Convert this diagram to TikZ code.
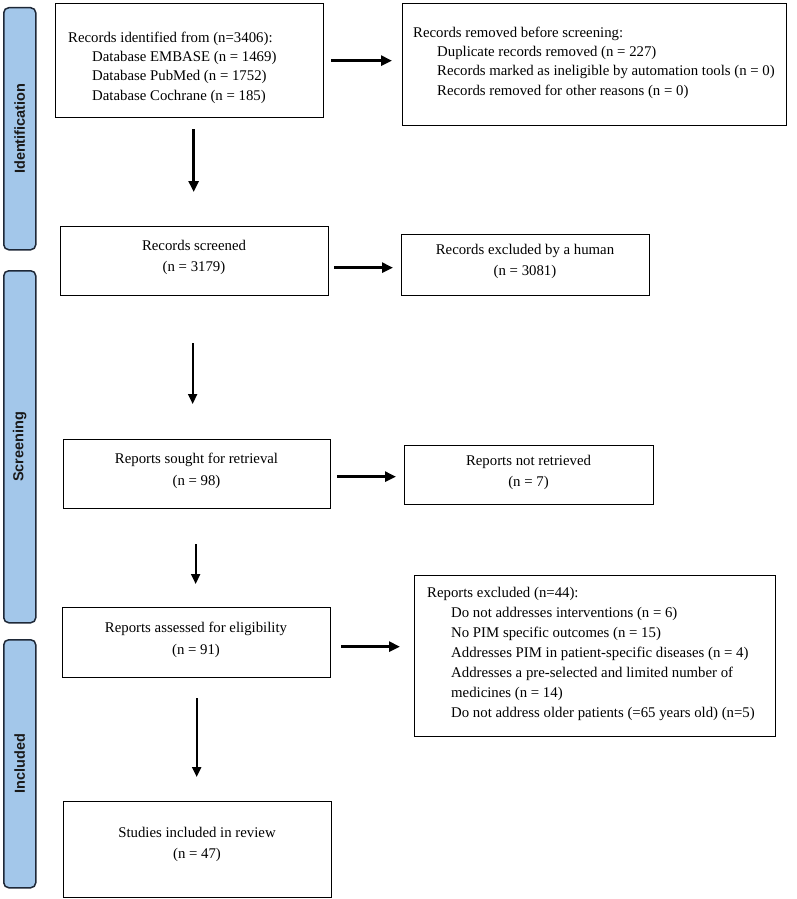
\documentclass[tikz,border=0pt]{standalone}
\usepackage{fontspec}
\setmainfont{Liberation Serif}
\newfontfamily\sidefont{Liberation Sans}
\usetikzlibrary{arrows.meta,calc}
\definecolor{sideblue}{RGB}{163,199,234}
\definecolor{sideline}{RGB}{30,40,55}
\tikzset{
  box/.style={draw=black,line width=1.3pt,fill=white,anchor=north west,inner sep=0pt},
  sidebox/.style={draw=sideline,line width=1.5pt,fill=sideblue,rounded corners=5pt,anchor=north west,inner sep=0pt},
  sidetext/.style={font=\sidefont\bfseries\fontsize{14.5}{16}\selectfont,rotate=90,inner sep=0pt,text=black!90},
  ltext/.style={font=\fontsize{14.8}{19.4}\selectfont,align=left,anchor=north west,inner sep=0pt},
  ctext/.style={font=\fontsize{14.8}{21.5}\selectfont,align=center,anchor=north,inner sep=0pt},
  thick arrow/.style={line width=2.6pt,-{Triangle[length=11pt,width=10pt]}},
  thin arrow/.style={line width=1.9pt,-{Triangle[length=10pt,width=9pt]}}
}
\begin{document}
\begin{tikzpicture}[x=1pt,y=-1pt]
\useasboundingbox (0,0) rectangle (796,899);
% side labels
\node[sidebox,minimum width=32pt,minimum height=242pt] (sid) at (3,7) {};
\node[sidetext] (sidt) at (sid.center) {Identification};
\node[sidebox,minimum width=32pt,minimum height=352pt] (ssc) at (3,270) {};
\node[sidetext] (ssct) at (ssc.center) {Screening};
\node[sidebox,minimum width=32pt,minimum height=248pt] (sin) at (3,639) {};
\node[sidetext] (sint) at (sin.center) {Included};
% boxes
\node[box,minimum width=268pt,minimum height=114pt] (idb) at (55,3) {};
\node[ltext] (idt) at (68,31.5) {Records identified from (n=3406):\\
\hspace*{24pt}Database EMBASE (n = 1469)\\
\hspace*{24pt}Database PubMed (n = 1752)\\
\hspace*{24pt}Database Cochrane (n = 185)};
\node[box,minimum width=384pt,minimum height=122pt] (rmb) at (402,3) {};
\node[ltext] (rmt) at (413,26.5) {Records removed before screening:\\
\hspace*{24pt}Duplicate records removed (n = 227)\\
\hspace*{24pt}Records marked as ineligible by automation tools (n = 0)\\
\hspace*{24pt}Records removed for other reasons (n = 0)};
\node[box,minimum width=268pt,minimum height=69pt] (scb) at (60,226) {};
\node[ctext] (sct) at (194,240) {Records screened\\(n = 3179)};
\node[box,minimum width=248pt,minimum height=61pt] (exb) at (401,234) {};
\node[ctext] (ext) at (525,244) {Records excluded by a human\\(n = 3081)};
\node[box,minimum width=267pt,minimum height=69pt] (sob) at (63,439) {};
\node[ctext] (sot) at (196.5,453) {Reports sought for retrieval\\(n = 98)};
\node[box,minimum width=249pt,minimum height=59pt] (nrb) at (404,445) {};
\node[ctext] (nrt) at (528.5,455) {Reports not retrieved\\(n = 7)};
\node[box,minimum width=268pt,minimum height=70pt] (asb) at (62,607) {};
\node[ctext] (ast) at (196,622) {Reports assessed for eligibility\\(n = 91)};
\node[box,minimum width=361pt,minimum height=161pt] (reb) at (414,575) {};
\node[ltext,font=\fontsize{14.8}{20}\selectfont] (ret) at (427,587.5) {Reports excluded (n=44):\\
\hspace*{24pt}Do not addresses interventions (n = 6)\\
\hspace*{24pt}No PIM specific outcomes (n = 15)\\
\hspace*{24pt}Addresses PIM in patient-specific diseases (n = 4)\\
\hspace*{24pt}Addresses a pre-selected and limited number of\\
\hspace*{24pt}medicines (n = 14)\\
\hspace*{24pt}Do not address older patients (=65 years old) (n=5)};
\node[box,minimum width=268pt,minimum height=96pt] (stb) at (63,801) {};
\node[ctext] (stt) at (197,827) {Studies included in review\\(n = 47)};
% arrows
\draw[thick arrow,shorten <=7pt,shorten >=10pt] (idb.east) -- (idb.east -| rmb.west);
\draw[thick arrow,shorten <=11pt,shorten >=34pt] ([xshift=4pt]idb.south) -- ([xshift=4pt]idb.south |- scb.north);
\draw[thick arrow,shorten <=5pt,shorten >=8pt] ([yshift=-6.5pt]scb.east) -- ([yshift=-6.5pt]scb.east -| exb.west);
\draw[thin arrow,shorten <=47pt,shorten >=35pt] ([xshift=-2pt]scb.south) -- ([xshift=-2pt]scb.south |- sob.north);
\draw[thick arrow,shorten <=6pt,shorten >=8pt] ([yshift=-2.5pt]sob.east) -- ([yshift=-2.5pt]sob.east -| nrb.west);
\draw[thin arrow,shorten <=35pt,shorten >=23pt] ([xshift=-1.5pt]sob.south) -- ([xshift=-1.5pt]sob.south |- asb.north);
\draw[thick arrow,line width=3pt,shorten <=10pt,shorten >=14pt] ([yshift=-4pt]asb.east) -- ([yshift=-4pt]asb.east -| reb.west);
\draw[thin arrow,line width=2.2pt,shorten <=20pt,shorten >=24pt] (asb.south) -- (asb.south |- stb.north);
\end{tikzpicture}
\end{document}
